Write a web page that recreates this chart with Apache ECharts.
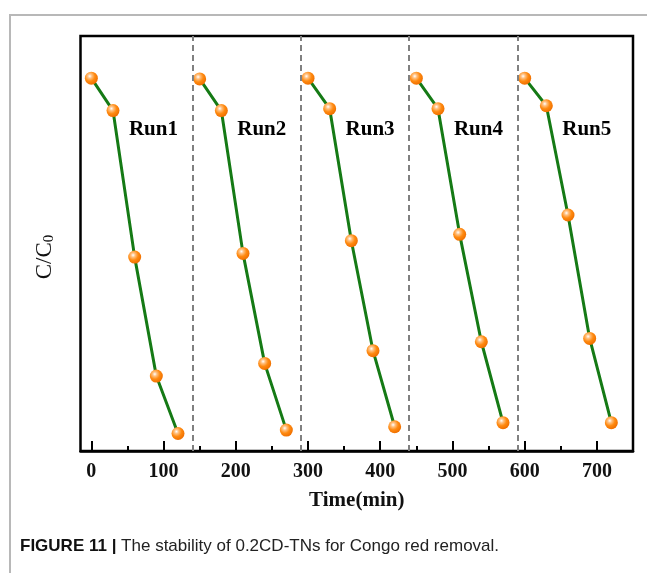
<!DOCTYPE html>
<html>
<head>
<meta charset="utf-8">
<script src="https://cdn.jsdelivr.net/npm/echarts@6/dist/echarts.min.js"></script>
<style>
  html, body { margin: 0; padding: 0; background: #fff; }
  #chart { width: 647px; height: 573px; }
</style>
</head>
<body>
<div id="chart"></div>
<script>
// sampling times (min) for each run
const run1Time = [0, 30, 60, 90, 120]
const run2Time = [150, 180, 210, 240, 270]
const run3Time = [300, 330, 360, 390, 420]
const run4Time = [450, 480, 510, 540, 570]
const run5Time = [600, 630, 660, 690, 720]

// C/C0
const run1Val = [1.0, 0.913, 0.520, 0.201, 0.047]
const run2Val = [0.998, 0.913, 0.530, 0.235, 0.056]
const run3Val = [1.0, 0.918, 0.564, 0.269, 0.065]
const run4Val = [1.0, 0.918, 0.581, 0.293, 0.076]
const run5Val = [1.0, 0.926, 0.633, 0.302, 0.076]

const runNames = ['Run1', 'Run2', 'Run3', 'Run4', 'Run5']
const separators = [140, 290, 440, 591]
const xTicks = [0, 100, 200, 300, 400, 500, 600, 700]
const xMinorTicks = [50, 150, 250, 350, 450, 550, 650]

const runs = [
  [run1Time, run1Val],
  [run2Time, run2Val],
  [run3Time, run3Val],
  [run4Time, run4Val],
  [run5Time, run5Val],
]

const chart = echarts.init(document.getElementById('chart'))

const ball = {
  type: 'radial',
  x: 0.38,
  y: 0.35,
  r: 0.65,
  colorStops: [
    { offset: 0, color: '#ffffff' },
    { offset: 0.25, color: '#ffc080' },
    { offset: 0.6, color: '#ff8a10' },
    { offset: 1, color: '#f07000' },
  ],
}

const serif = 'Liberation Serif'

const series = runs.map(([t, v], i) => ({
  name: runNames[i],
  type: 'line',
  data: t.map((x, j) => [x, v[j]]),
  symbol: 'circle',
  symbolSize: 13,
  lineStyle: { color: '#157a15', width: 3 },
  itemStyle: { color: ball, borderWidth: 0 },
  z: 3,
}))

// run labels, placed just right of each run's second point
series.push({
  type: 'scatter',
  symbolSize: 0,
  silent: true,
  itemStyle: { opacity: 1 },
  data: runs.map(([t], i) => ({ value: [t[0] + 52, 0.861], name: runNames[i] })),
  label: {
    show: true,
    position: 'right',
    distance: 0,
    formatter: p => p.name,
    fontFamily: serif,
    fontWeight: 'bold',
    fontSize: 21,
    color: '#000',
    opacity: 1,
  },
  z: 5,
})

// dashed separators between runs
series.push({
  type: 'line',
  data: [],
  markLine: {
    silent: true,
    symbol: 'none',
    label: { show: false },
    lineStyle: { color: '#808080', type: [6, 4], width: 2 },
    data: separators.map(x => ({ xAxis: x })),
  },
})

chart.setOption({
  animation: false,
  grid: {
    left: 80.5,
    right: 14,
    top: 36,
    bottom: 122,
    show: true,
    borderColor: '#000',
    borderWidth: 2.5,
  },
  xAxis: [
    {
      type: 'value',
      min: -15,
      max: 750,
      name: 'Time(min)',
      nameLocation: 'middle',
      nameGap: 39,
      nameTextStyle: { fontFamily: serif, fontWeight: 'bold', fontSize: 21, color: '#111' },
      axisLine: { show: true, lineStyle: { color: '#000', width: 2.5 } },
      axisTick: { inside: true, length: 10, lineStyle: { color: '#000', width: 2 }, customValues: xTicks },
      axisLabel: {
        customValues: xTicks,
        margin: 11,
        fontFamily: serif,
        fontWeight: 'bold',
        fontSize: 20,
        color: '#111',
      },
      splitLine: { show: false },
    },
    {
      type: 'value',
      min: -15,
      max: 750,
      position: 'bottom',
      axisLine: { show: false },
      axisTick: { inside: true, length: 5, lineStyle: { color: '#000', width: 2 }, customValues: xMinorTicks },
      axisLabel: { show: false },
      splitLine: { show: false },
    },
  ],
  yAxis: {
    type: 'value',
    min: 0,
    max: 1.113,
    axisLine: { show: false },
    axisTick: { show: false },
    axisLabel: { show: false },
    splitLine: { show: false },
  },
  series,
  graphic: [
    // figure frame
    {
      type: 'polyline',
      shape: { points: [[10, 573], [10, 15], [647, 15]] },
      style: { stroke: '#b8b8b8', lineWidth: 2, fill: null },
      silent: true,
    },
    {
      type: 'text',
      x: 45,
      y: 257,
      rotation: Math.PI / 2,
      style: {
        text: 'C/C{s|0}',
        rich: { s: { fontFamily: serif, fontSize: 15, verticalAlign: 'bottom', padding: [9, 0, 0, 0] } },
        font: '23px "Liberation Serif"',
        fill: '#111',
        align: 'center',
        verticalAlign: 'middle',
      },
    },
    {
      type: 'text',
      left: 20,
      top: 538,
      style: {
        text: '{b|FIGURE 11 |} The stability of 0.2CD-TNs for Congo red removal.',
        rich: { b: { fontFamily: 'Liberation Sans', fontWeight: 'bold', fontSize: 17, fill: '#111' } },
        font: '17px "Liberation Sans"',
        fill: '#222',
      },
    },
  ],
})
</script>
</body>
</html>
